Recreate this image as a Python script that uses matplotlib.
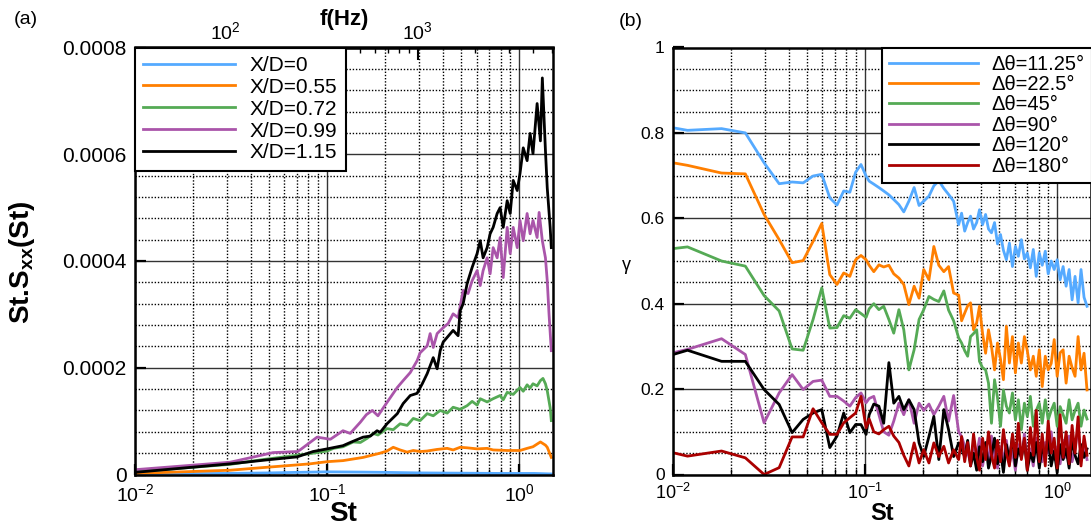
import numpy as np
import matplotlib
matplotlib.use("Agg")
import matplotlib.pyplot as plt
from matplotlib.ticker import LogLocator, MultipleLocator, NullFormatter, FormatStrFormatter

plt.rcParams['font.family'] = ['Liberation Sans', 'DejaVu Sans']
plt.rcParams['mathtext.fontset'] = 'custom'
plt.rcParams['mathtext.rm'] = 'Liberation Sans'
plt.rcParams['mathtext.it'] = 'Liberation Sans:italic'
plt.rcParams['mathtext.bf'] = 'Liberation Sans:bold'

# ---------------- panel (a): premultiplied spectra, values in units of 1e-4 ----------------
labels_a = ["X/D=0", "X/D=0.55", "X/D=0.72", "X/D=0.99", "X/D=1.15"]
colors_a = ["#55aaff", "#ff7f00", "#55aa55", "#aa55aa", "black"]

st_xd0 = [0.010, 0.030, 0.050, 0.070, 0.100, 0.150, 0.200, 0.300, 0.500, 0.800, 1.200, 1.470]
sxx_xd0 = [0.01, 0.02, 0.03, 0.04, 0.05, 0.045, 0.04, 0.03, 0.025, 0.02, 0.02, 0.01]

st_xd055 = [0.0100, 0.0313, 0.0464, 0.0698, 0.0815, 0.100, 0.121, 0.154, 0.189, 0.205,
            0.221, 0.240, 0.261, 0.281, 0.305, 0.332, 0.374, 0.422, 0.453, 0.493,
            0.536, 0.604, 0.681, 0.732, 0.866, 1.01, 1.10, 1.18, 1.29, 1.37, 1.40, 1.47]
sxx_xd055 = [0.02, 0.08, 0.13, 0.18, 0.20, 0.24, 0.26, 0.32, 0.40, 0.44,
             0.51, 0.46, 0.42, 0.45, 0.43, 0.44, 0.47, 0.49, 0.46, 0.51,
             0.50, 0.48, 0.49, 0.46, 0.45, 0.45, 0.49, 0.52, 0.61, 0.55, 0.51, 0.32]

st_xd072 = [0.0100, 0.0313, 0.0464, 0.0698, 0.0845, 0.100, 0.108, 0.121, 0.137, 0.149,
            0.162, 0.174, 0.184, 0.205, 0.221, 0.240, 0.261, 0.281, 0.305, 0.332,
            0.357, 0.388, 0.422, 0.453, 0.493, 0.536, 0.569, 0.604, 0.627, 0.681,
            0.732, 0.796, 0.826, 0.866, 0.931, 1.01, 1.05, 1.10, 1.14, 1.18,
            1.24, 1.29, 1.33, 1.37, 1.40, 1.45, 1.47]
sxx_xd072 = [0.05, 0.19, 0.28, 0.36, 0.40, 0.44, 0.49, 0.52, 0.61, 0.60,
             0.68, 0.77, 0.74, 0.86, 0.84, 0.95, 0.92, 1.05, 1.01, 1.14,
             1.10, 1.20, 1.15, 1.26, 1.22, 1.29, 1.37, 1.30, 1.42, 1.36,
             1.42, 1.48, 1.40, 1.54, 1.50, 1.63, 1.56, 1.68, 1.62, 1.70,
             1.66, 1.76, 1.80, 1.70, 1.57, 1.25, 1.01]

st_xd099 = [0.0100, 0.0313, 0.0523, 0.0698, 0.0723, 0.0887, 0.104, 0.121, 0.132, 0.149,
            0.160, 0.172, 0.184, 0.205, 0.232, 0.249, 0.271, 0.294, 0.305, 0.332,
            0.344, 0.357, 0.374, 0.402, 0.427, 0.453, 0.481, 0.511, 0.542, 0.569,
            0.604, 0.627, 0.649, 0.681, 0.706, 0.732, 0.768, 0.796, 0.826, 0.866,
            0.898, 0.931, 0.977, 1.01, 1.05, 1.10, 1.14, 1.18, 1.24, 1.27,
            1.32, 1.37, 1.40, 1.43, 1.47]
sxx_xd099 = [0.09, 0.23, 0.41, 0.43, 0.46, 0.70, 0.66, 0.82, 0.77, 0.98,
             1.12, 1.20, 1.10, 1.35, 1.63, 1.76, 1.91, 2.13, 2.28, 2.41,
             2.64, 2.38, 2.64, 2.75, 2.83, 3.01, 2.94, 3.45, 3.39, 3.63,
             3.82, 3.54, 3.82, 4.06, 3.76, 4.25, 4.06, 4.44, 3.69, 4.63,
             4.14, 4.63, 4.25, 4.76, 4.38, 4.89, 4.51, 4.76, 4.44, 4.91,
             4.38, 4.06, 3.63, 3.01, 2.32]

st_xd115 = [0.0100, 0.0313, 0.0505, 0.0698, 0.0845, 0.100, 0.121, 0.132, 0.154, 0.168,
            0.182, 0.189, 0.205, 0.232, 0.249, 0.271, 0.294, 0.313, 0.332, 0.357,
            0.374, 0.388, 0.402, 0.422, 0.453, 0.481, 0.493, 0.511, 0.536, 0.569,
            0.604, 0.627, 0.649, 0.681, 0.706, 0.732, 0.768, 0.796, 0.826, 0.866,
            0.898, 0.931, 0.977, 1.01, 1.05, 1.10, 1.14, 1.18, 1.24, 1.29,
            1.32, 1.37, 1.40, 1.45, 1.47]
sxx_xd115 = [0.04, 0.20, 0.28, 0.33, 0.43, 0.48, 0.54, 0.60, 0.70, 0.72,
             0.82, 0.79, 0.95, 1.14, 1.33, 1.48, 1.52, 1.70, 1.89, 2.19,
             1.98, 2.32, 2.48, 2.57, 2.70, 2.60, 3.07, 3.20, 3.58, 3.88,
             4.14, 4.38, 4.06, 4.25, 4.51, 4.63, 4.89, 5.00, 4.63, 5.13,
             4.89, 5.51, 5.32, 5.64, 6.12, 5.88, 6.39, 6.01, 6.95, 6.25,
             7.43, 6.07, 5.37, 4.63, 4.25]

SXX_UNIT = 1e-4
ST_TO_HZ = 3380.0   # f = St * U/D

# ---------------- panel (b): coherence ----------------
labels_b = ["Δθ=11.25°", "Δθ=22.5°", "Δθ=45°", "Δθ=90°", "Δθ=120°", "Δθ=180°"]
colors_b = ["#55aaff", "#ff7f00", "#55aa55", "#aa55aa", "black", "#aa0000"]

st_b = [0.0100, 0.0119, 0.0179, 0.0238, 0.0298, 0.0357, 0.0417, 0.0476, 0.0536, 0.0595,
        0.0655, 0.0714, 0.0774, 0.0833, 0.0893, 0.0952, 0.1012,
        0.105, 0.111, 0.118, 0.125, 0.133, 0.141, 0.150, 0.159, 0.169, 0.180,
        0.191, 0.202, 0.215, 0.228, 0.242, 0.257, 0.272, 0.289, 0.307,
        0.318, 0.330, 0.342, 0.354, 0.367, 0.381, 0.394, 0.409, 0.424, 0.439,
        0.455, 0.472, 0.489, 0.507, 0.525, 0.544, 0.564, 0.585, 0.606, 0.628,
        0.651, 0.675, 0.699, 0.725, 0.751, 0.778, 0.807, 0.836, 0.867, 0.898,
        0.931, 0.965, 1.000, 1.036, 1.074, 1.113, 1.154, 1.196, 1.239, 1.285,
        1.331, 1.380, 1.430]

gamma_1125 = [0.812, 0.806, 0.810, 0.800, 0.730, 0.681, 0.685, 0.683, 0.699, 0.703,
              0.648, 0.631, 0.664, 0.661, 0.708, 0.726, 0.699,
              0.687, 0.680, 0.672, 0.664, 0.655, 0.644, 0.632, 0.615, 0.640, 0.672,
              0.630, 0.640, 0.652, 0.676, 0.688, 0.670, 0.656, 0.640, 0.585,
              0.612, 0.570, 0.590, 0.605, 0.575, 0.590, 0.620, 0.585, 0.609, 0.575,
              0.566, 0.590, 0.540, 0.562, 0.525, 0.503, 0.542, 0.487, 0.534, 0.511,
              0.550, 0.505, 0.519, 0.484, 0.527, 0.464, 0.519, 0.490, 0.523, 0.470,
              0.500, 0.480, 0.503, 0.456, 0.487, 0.441, 0.480, 0.409, 0.464, 0.402,
              0.480, 0.415, 0.394]
gamma_225 = [0.730, 0.724, 0.706, 0.704, 0.609, 0.550, 0.496, 0.501, 0.546, 0.588,
             0.468, 0.445, 0.472, 0.464, 0.503, 0.513, 0.503,
             0.490, 0.475, 0.491, 0.486, 0.490, 0.470, 0.460, 0.445, 0.398, 0.441,
             0.413, 0.480, 0.456, 0.534, 0.490, 0.475, 0.487, 0.425, 0.420,
             0.360, 0.378, 0.395, 0.402, 0.339, 0.355, 0.394, 0.330, 0.284, 0.339,
             0.300, 0.245, 0.308, 0.270, 0.222, 0.347, 0.261, 0.323, 0.238, 0.308,
             0.261, 0.323, 0.290, 0.245, 0.277, 0.230, 0.292, 0.206, 0.277, 0.245,
             0.260, 0.316, 0.230, 0.285, 0.292, 0.214, 0.277, 0.250, 0.230, 0.323,
             0.245, 0.284, 0.198]
gamma_45 = [0.529, 0.533, 0.500, 0.488, 0.419, 0.383, 0.294, 0.291, 0.363, 0.437,
            0.343, 0.344, 0.372, 0.366, 0.386, 0.377, 0.368,
            0.388, 0.400, 0.386, 0.394, 0.363, 0.331, 0.386, 0.339, 0.245, 0.292,
            0.363, 0.386, 0.417, 0.410, 0.405, 0.430, 0.385, 0.360, 0.320,
            0.308, 0.290, 0.277, 0.323, 0.330, 0.339, 0.265, 0.250, 0.245, 0.214,
            0.120, 0.222, 0.180, 0.113, 0.198, 0.160, 0.144, 0.191, 0.128, 0.175,
            0.105, 0.167, 0.136, 0.183, 0.113, 0.150, 0.167, 0.120, 0.175, 0.128,
            0.150, 0.167, 0.113, 0.159, 0.140, 0.120, 0.175, 0.128, 0.150, 0.167,
            0.113, 0.151, 0.130]
gamma_90 = [0.285, 0.293, 0.318, 0.281, 0.121, 0.191, 0.234, 0.199, 0.218, 0.221,
            0.183, 0.183, 0.172, 0.160, 0.180, 0.191, 0.168,
            0.178, 0.183, 0.140, 0.100, 0.092, 0.125, 0.167, 0.140, 0.175, 0.120,
            0.167, 0.150, 0.165, 0.140, 0.160, 0.183, 0.125, 0.185, 0.100,
            0.089, 0.066, 0.050, 0.030, 0.070, 0.045, 0.085, 0.020, 0.060, 0.035,
            0.090, 0.040, 0.015, 0.065, 0.030, 0.080, 0.025, 0.055, 0.010, 0.070,
            0.040, 0.095, 0.030, 0.060, 0.020, 0.085, 0.045, 0.030, 0.075, 0.050,
            0.100, 0.035, 0.065, 0.025, 0.080, 0.040, 0.090, 0.030, 0.060, 0.110,
            0.045, 0.070, 0.035]
gamma_120 = [0.281, 0.291, 0.265, 0.265, 0.199, 0.164, 0.098, 0.129, 0.144, 0.152,
             0.063, 0.090, 0.144, 0.098, 0.117, 0.117, 0.094,
             0.140, 0.165, 0.160, 0.120, 0.262, 0.167, 0.183, 0.152, 0.175, 0.152,
             0.074, 0.042, 0.089, 0.136, 0.035, 0.152, 0.105, 0.042, 0.074,
             0.060, 0.042, 0.080, 0.020, 0.050, 0.010, 0.065, 0.030, 0.075, 0.015,
             0.045, 0.085, 0.025, 0.055, 0.005, 0.070, 0.035, 0.090, 0.020, 0.060,
             0.040, 0.080, 0.010, 0.050, 0.030, 0.075, 0.015, 0.065, 0.040, 0.085,
             0.020, 0.055, 0.005, 0.070, 0.035, 0.060, 0.015, 0.080, 0.045, 0.025,
             0.070, 0.040, 0.060]
gamma_180 = [0.051, 0.043, 0.055, 0.039, 0.000, 0.016, 0.088, 0.088, 0.154, 0.121,
             0.094, 0.094, 0.121, 0.133, 0.144, 0.183, 0.109,
             0.130, 0.100, 0.095, 0.105, 0.113, 0.090, 0.075, 0.045, 0.020, 0.074,
             0.027, 0.058, 0.027, 0.074, 0.042, 0.066, 0.027, 0.058, 0.035,
             0.089, 0.030, 0.075, 0.020, 0.095, 0.040, 0.010, 0.085, 0.035, 0.100,
             0.045, 0.015, 0.080, 0.030, 0.105, 0.050, 0.020, 0.095, 0.040, 0.120,
             0.035, 0.085, 0.010, 0.110, 0.045, 0.150, 0.030, 0.095, 0.020, 0.125,
             0.050, 0.085, 0.015, 0.140, 0.040, 0.100, 0.025, 0.115, 0.050, 0.135,
             0.020, 0.090, 0.045]


def style_axes(ax, ymax, ymajor, yminor, xsize, ysize):
    ax.set_xscale('log')
    ax.set_xlim(0.01, 1.5)
    ax.set_ylim(0, ymax)
    ax.yaxis.set_major_locator(MultipleLocator(ymajor))
    ax.yaxis.set_minor_locator(MultipleLocator(yminor))
    ax.yaxis.set_major_formatter(FormatStrFormatter('%g'))
    ax.xaxis.set_major_locator(LogLocator(base=10))
    ax.xaxis.set_minor_locator(LogLocator(base=10, subs=np.arange(2, 10), numticks=20))
    ax.xaxis.set_minor_formatter(NullFormatter())
    ax.set_axisbelow(True)
    ax.grid(which='major', color='#333333', lw=1.0, ls='-')
    ax.grid(which='minor', color='black', lw=1.0, ls=(0, (1, 1.3)))
    ax.tick_params(which='major', direction='in', length=8, width=1.6, pad=6)
    ax.tick_params(axis='x', which='major', labelsize=xsize)
    ax.tick_params(axis='y', which='major', labelsize=ysize)
    ax.tick_params(axis='y', which='minor', length=0)
    ax.tick_params(axis='x', which='minor', direction='in', length=4, width=1.0)
    for s in ax.spines.values():
        s.set_linewidth(1.8)


fig = plt.figure(figsize=(10.91, 5.25), dpi=100)
W, H = 1091.0, 525.0
ax_a = fig.add_axes([135 / W, 1 - 474.5 / H, 418 / W, 427 / H])
ax_b = fig.add_axes([673 / W, 1 - 474.5 / H, 418 / W, 427 / H])

# Panel (a)
series_a = [(st_xd0, sxx_xd0), (st_xd055, sxx_xd055), (st_xd072, sxx_xd072),
            (st_xd099, sxx_xd099), (st_xd115, sxx_xd115)]
for (st, v), lab, c in zip(series_a, labels_a, colors_a):
    ax_a.plot(st, np.array(v) * SXX_UNIT, color=c, lw=2.0, label=lab)
style_axes(ax_a, 0.0008, 0.0002, 0.00004, 14, 15)

sec = ax_a.secondary_xaxis('top', functions=(lambda s: s * ST_TO_HZ, lambda f: f / ST_TO_HZ))
sec.xaxis.set_major_locator(LogLocator(base=10))
sec.xaxis.set_minor_locator(LogLocator(base=10, subs=np.arange(2, 10), numticks=20))
sec.xaxis.set_minor_formatter(NullFormatter())
sec.tick_params(which='major', direction='in', length=9, width=1.5, labelsize=14, pad=3)
sec.tick_params(which='minor', direction='in', length=4, width=1.0)
sec.spines['top'].set_linewidth(1.8)

leg_a = ax_a.legend(loc='upper left', bbox_to_anchor=(0, 1), borderaxespad=0, fontsize=15,
                    handlelength=4.4, handletextpad=0.7, labelspacing=0.14, borderpad=0.4,
                    fancybox=False, edgecolor='black', framealpha=1)
leg_a.get_frame().set_linewidth(1.5)

# Panel (b)
series_b = [gamma_1125, gamma_225, gamma_45, gamma_90, gamma_120, gamma_180]
for v, lab, c in zip(series_b, labels_b, colors_b):
    ax_b.plot(st_b, v, color=c, lw=2.0, label=lab)
style_axes(ax_b, 1.0, 0.2, 0.05, 13, 12.5)

leg_b = ax_b.legend(loc='upper left', bbox_to_anchor=(0.5, 1), borderaxespad=0, fontsize=14.5,
                    handlelength=4.4, handletextpad=0.7, labelspacing=0.07, borderpad=0.35,
                    fancybox=False, edgecolor='black', framealpha=1)
leg_b.get_frame().set_linewidth(1.5)

# Labels
fig.text(22 / W, 1 - 262 / H, r"St.S$_{\mathbf{xx}}$(St)", rotation=90, fontsize=20,
         fontweight='bold', ha='center', va='center')
fig.text(343 / W, 1 - 514 / H, "St", fontsize=20, fontweight='bold', ha='center', va='center')
fig.text(344 / W, 1 - 20 / H, "f(Hz)", fontsize=16, fontweight='bold', ha='center', va='center')
fig.text(626 / W, 1 - 265 / H, "γ", fontsize=13, ha='center', va='center')
fig.text(882 / W, 1 - 513 / H, "St", fontsize=17, fontweight='bold', ha='center', va='center')
fig.text(26 / W, 1 - 20 / H, "(a)", fontsize=14, ha='center', va='center')
fig.text(631 / W, 1 - 21 / H, "(b)", fontsize=14, ha='center', va='center')

fig.savefig("out.png", dpi=100)
